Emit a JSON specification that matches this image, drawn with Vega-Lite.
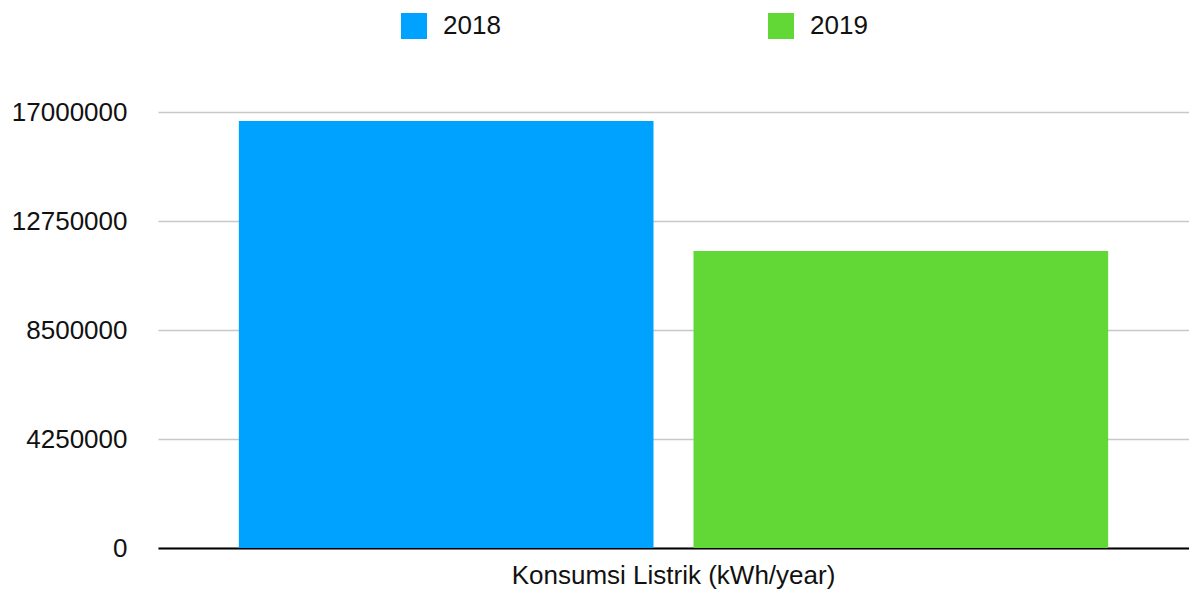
{
  "$schema": "https://vega.github.io/schema/vega-lite/v6.json",
  "width": 1031,
  "height": 436,
  "autosize": {"type": "none"},
  "padding": {"left": 158, "top": 112, "right": 0, "bottom": 44},
  "background": "white",
  "config": {
    "view": {"stroke": null},
    "font": "Liberation Sans",
    "axis": {"labelFont": "Liberation Sans", "labelColor": "#111111"},
    "legend": {"labelFont": "Liberation Sans"}
  },
  "data": {
    "values": [
      {"category": "Konsumsi Listrik (kWh/year)", "year": "2018", "value": 16650000},
      {"category": "Konsumsi Listrik (kWh/year)", "year": "2019", "value": 11580000}
    ]
  },
  "mark": {"type": "bar"},
  "encoding": {
    "x": {
      "field": "category",
      "type": "nominal",
      "scale": {"paddingInner": 0, "paddingOuter": 0.093},
      "axis": {
        "title": null,
        "labelAngle": 0,
        "labelFontSize": 26,
        "labelPadding": 14,
        "labelLimit": 800,
        "ticks": false,
        "domainColor": "#000000",
        "domainWidth": 2,
        "grid": false
      }
    },
    "xOffset": {
      "field": "year",
      "type": "nominal",
      "scale": {"paddingInner": 0.088, "paddingOuter": 0}
    },
    "y": {
      "field": "value",
      "type": "quantitative",
      "scale": {"domain": [0, 17000000], "nice": false},
      "axis": {
        "title": null,
        "values": [0, 4250000, 8500000, 12750000, 17000000],
        "format": "d",
        "labelFontSize": 26,
        "labelPadding": 31,
        "ticks": false,
        "domain": false,
        "grid": true,
        "gridColor": "#c8c8c8",
        "gridWidth": 1.5
      }
    },
    "color": {
      "field": "year",
      "type": "nominal",
      "scale": {"domain": ["2018", "2019"], "range": ["#00A2FF", "#61D836"]},
      "legend": {
        "title": null,
        "orient": "none",
        "direction": "horizontal",
        "columns": 2,
        "legendX": 243,
        "legendY": -99,
        "padding": 0,
        "symbolType": "square",
        "symbolSize": 676,
        "symbolStrokeWidth": 0,
        "labelFontSize": 26,
        "labelOffset": 16,
        "columnPadding": 267,
        "labelColor": "#111111"
      }
    }
  }
}
